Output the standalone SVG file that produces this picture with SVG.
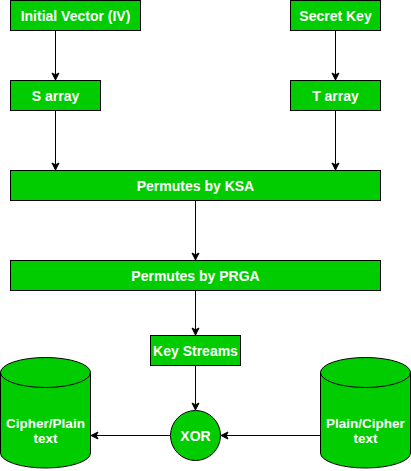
<svg xmlns="http://www.w3.org/2000/svg" width="411" height="471" viewBox="0 0 411 471">
<style>
.box{fill:#00CC00;stroke:#000;stroke-width:1}
.t{font-family:"Liberation Sans",Arial,sans-serif;font-weight:bold;font-size:14px;fill:#fff;text-anchor:middle;dominant-baseline:central}
.ct{font-size:13.5px}
.c{stroke:#000;stroke-width:1;fill:none;marker-end:url(#ah)}
</style>
<defs>
<marker id="ah" markerWidth="10" markerHeight="10" refX="8" refY="5" orient="auto" markerUnits="userSpaceOnUse">
<path d="M1,1.5 L8,5 L1,8.5 L2.8,5 Z" fill="#000" stroke="#000" stroke-width="1"/>
</marker>
</defs>
<rect width="411" height="471" fill="#fff"/>
<g id="connectors">
<path class="c" d="M55.5,30.5 V80"/>
<path class="c" d="M335.5,30.5 V80"/>
<path class="c" d="M55.5,110.5 V170"/>
<path class="c" d="M335.5,110.5 V170"/>
<path class="c" d="M195.5,200.5 V260"/>
<path class="c" d="M195.5,290.5 V335"/>
<path class="c" d="M195.5,365.5 V410"/>
<path class="c" d="M320.5,435.5 H221"/>
<path class="c" d="M170.5,435.5 H91"/>
</g>
<g id="iv"><rect class="box" x="10.5" y="0.5" width="130" height="30"/><text class="t" x="75.5" y="15.5">Initial Vector (IV)</text></g>
<g id="secret"><rect class="box" x="290.5" y="0.5" width="90" height="30"/><text class="t" x="335.5" y="15.5">Secret Key</text></g>
<g id="sarray"><rect class="box" x="10.5" y="80.5" width="90" height="30"/><text class="t" x="55.5" y="95.5">S array</text></g>
<g id="tarray"><rect class="box" x="290.5" y="80.5" width="90" height="30"/><text class="t" x="335.5" y="95.5">T array</text></g>
<g id="ksa"><rect class="box" x="10.5" y="170.5" width="370" height="30"/><text class="t" x="195.5" y="185.5">Permutes by KSA</text></g>
<g id="prga"><rect class="box" x="10.5" y="260.5" width="370" height="30"/><text class="t" x="195.5" y="275.5">Permutes by PRGA</text></g>
<g id="keystreams"><rect class="box" x="150.5" y="335.5" width="90" height="30"/><text class="t" x="195.5" y="350.5">Key  Streams</text></g>
<g id="xor"><circle class="box" cx="195.5" cy="435.5" r="25"/><text class="t" x="195.5" y="436">XOR</text></g>
<g id="cipherplain">
<path class="box" d="M0.5,372.5 A45,15 0 0 1 90.5,372.5 V453 A45,15 0 0 1 0.5,453 Z"/>
<path d="M0.5,372.5 A45,15 0 0 0 90.5,372.5" fill="none" stroke="#000"/>
<text class="t ct" x="45.5" y="423">Cipher/Plain</text><text class="t ct" x="45.5" y="438.5">text</text>
</g>
<g id="plaincipher">
<path class="box" d="M320.5,372.5 A45,15 0 0 1 410.5,372.5 V453 A45,15 0 0 1 320.5,453 Z"/>
<path d="M320.5,372.5 A45,15 0 0 0 410.5,372.5" fill="none" stroke="#000"/>
<text class="t ct" x="365.5" y="423">Plain/Cipher</text><text class="t ct" x="365.5" y="438.5">text</text>
</g>
</svg>
